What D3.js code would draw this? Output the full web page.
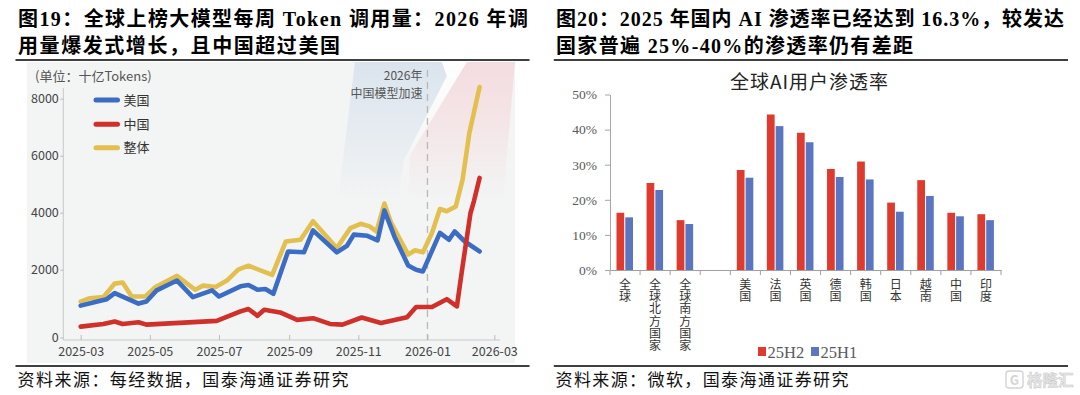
<!DOCTYPE html>
<html><head><meta charset="utf-8">
<script src="https://cdn.jsdelivr.net/npm/d3@7"></script>
<style>
html,body{margin:0;padding:0;background:#fff;}
svg{display:block;}
</style></head><body>
<svg id="c" width="1080" height="395"></svg>
<script>
// ===== Left chart data: weekly token calls (十亿Tokens) =====
const xTickLabels = ["2025-03","2025-05","2025-07","2025-09","2025-11","2026-01","2026-03"];
const yTickValues = [0,2000,4000,6000,8000];
const seriesNames = ["美国","中国","整体"];

const usDates = ["2025-03-01","2025-03-12","2025-03-24","2025-03-31","2025-04-21","2025-04-28","2025-05-07","2025-05-25","2025-06-08","2025-06-25","2025-07-01","2025-07-20","2025-07-27","2025-08-04","2025-08-11","2025-08-18","2025-08-31","2025-09-14","2025-09-22","2025-10-13","2025-10-22","2025-10-28","2025-11-09","2025-11-18","2025-11-24","2025-12-03","2025-12-15","2025-12-22","2025-12-28","2026-01-12","2026-01-20","2026-01-25","2026-02-03","2026-02-16"];
const usValues = [940,1030,1130,1310,1000,1060,1390,1680,1190,1390,1210,1510,1550,1410,1430,1290,2640,2610,3380,2610,2840,3230,3190,3030,4080,3150,2150,2000,1950,3290,3050,3340,2990,2640];

const cnDates = ["2025-03-01","2025-03-21","2025-03-31","2025-04-07","2025-04-21","2025-04-28","2025-06-29","2025-07-20","2025-07-27","2025-08-04","2025-08-10","2025-08-24","2025-09-08","2025-09-22","2025-10-07","2025-10-18","2025-11-04","2025-11-21","2025-12-14","2025-12-22","2026-01-05","2026-01-18","2026-01-27","2026-02-01","2026-02-08","2026-02-11","2026-02-16"];
const cnValues = [320,400,470,400,450,380,490,770,840,640,820,740,520,570,400,380,590,430,600,900,900,1130,920,2120,3990,4400,5220];

const totalDates = ["2025-03-01","2025-03-09","2025-03-21","2025-03-31","2025-04-07","2025-04-15","2025-04-27","2025-05-06","2025-05-25","2025-06-10","2025-06-17","2025-06-28","2025-07-08","2025-07-18","2025-07-27","2025-08-17","2025-08-29","2025-09-11","2025-09-22","2025-10-13","2025-10-25","2025-11-03","2025-11-11","2025-11-17","2025-11-24","2025-11-30","2025-12-08","2025-12-15","2025-12-21","2025-12-28","2026-01-05","2026-01-12","2026-01-18","2026-01-26","2026-02-01","2026-02-07","2026-02-16"];
const totalValues = [1060,1160,1190,1590,1620,1210,1210,1490,1820,1410,1530,1490,1680,2000,2140,1850,2990,3050,3700,2760,3460,3610,3520,3340,4320,3640,3050,2530,2680,2610,3290,4130,4050,4220,5160,6800,8410];

// ===== Right chart data: AI user penetration =====
const barCategories = ["全球","全球北方国家","全球南方国家","","美国","法国","英国","德国","韩国","日本","越南","中国","印度"];
const barSeries = ["25H2","25H1"];
const h2Values = [16.3,24.8,14.2,null,28.5,44.3,39.1,28.8,30.9,19.2,25.6,16.3,15.9];
const h1Values = [15.0,22.8,13.1,null,26.3,41.0,36.4,26.5,25.8,16.6,21.1,15.3,14.2];
const barTickValues = [0,10,20,30,40,50];

// ===== Styling =====
const CJK = "'Noto Sans CJK SC','Noto Sans',sans-serif";
const TITLE = "'Liberation Serif','Noto Sans CJK SC',serif";
const colUS = "#3b6dc4", colCN = "#d0302a", colTot = "#e3bf4f";
const colH2 = "#df3a2e", colH1 = "#5b76c1";

const svg = d3.select("#c");
const defs = svg.append("defs");

// ---------- Titles, rules, footers ----------
function title(x, y, txt, len){
  svg.append("text").attr("x",x).attr("y",y).attr("font-family",TITLE)
    .attr("font-weight","bold").attr("font-size",20).attr("fill","#000")
    .attr("textLength",len).attr("lengthAdjust","spacing").text(txt);
}
title(18, 26, "图19：全球上榜大模型每周 Token 调用量：2026 年调", 510);
title(18, 53, "用量爆发式增长，且中国超过美国", 322);
title(556, 26, "图20：2025 年国内 AI 渗透率已经达到 16.3%，较发达", 508);
title(556, 53, "国家普遍 25%-40%的渗透率仍有差距", 357);

[[15.5,529.5],[553.8,1068]].forEach(([a,b])=>{
  svg.append("line").attr("x1",a).attr("x2",b).attr("y1",60).attr("y2",60).attr("stroke","#000").attr("stroke-width",1.6);
  svg.append("line").attr("x1",a).attr("x2",b).attr("y1",366).attr("y2",366).attr("stroke","#000").attr("stroke-width",1.6);
});
function footer(x, txt, len){
  svg.append("text").attr("x",x).attr("y",386).attr("font-family",CJK).attr("font-size",17)
    .attr("fill","#111").attr("textLength",len).attr("lengthAdjust","spacing").text(txt);
}
footer(17.5, "资料来源：每经数据，国泰海通证券研究", 331);
footer(555.5, "资料来源：微软，国泰海通证券研究", 293);

// watermark
const wm = svg.append("g").attr("opacity",0.9);
wm.append("rect").attr("x",1006).attr("y",371).attr("width",17).attr("height",17).attr("rx",3)
  .attr("fill","none").attr("stroke","#cfcfcf").attr("stroke-width",1.4);
wm.append("text").attr("x",1014.5).attr("y",384.5).attr("text-anchor","middle").attr("font-family",CJK)
  .attr("font-size",13).attr("font-weight","bold").attr("fill","#d2d2d2").text("G");
wm.append("text").attr("x",1027).attr("y",386).attr("font-family",CJK).attr("font-size",15.5)
  .attr("font-weight","bold").attr("fill","#e6e6e6").attr("stroke","#c9c9c9").attr("stroke-width",0.6).text("格隆汇");

// ---------- Left chart ----------
const parse = d3.timeParse("%Y-%m-%d");
const parseM = d3.timeParse("%Y-%m");
const x = d3.scaleTime().domain([parseM("2025-03"), parseM("2026-03")]).range([80.7, 494.3]);
const y = d3.scaleLinear().domain([0,2000,8000]).range([337.5,269.7,98.7]);

svg.append("rect").attr("x",27).attr("y",62).attr("width",488).attr("height",301).attr("fill","#f3f4f4");

function vgrad(id, color, y1, y2, op){
  const g = defs.append("linearGradient").attr("id",id).attr("gradientUnits","userSpaceOnUse")
    .attr("x1",0).attr("x2",0).attr("y1",y1).attr("y2",y2);
  g.append("stop").attr("offset",0).attr("stop-color",color).attr("stop-opacity",op);
  g.append("stop").attr("offset",0.5).attr("stop-color",color).attr("stop-opacity",op*0.55);
  g.append("stop").attr("offset",1).attr("stop-color",color).attr("stop-opacity",0);
}
vgrad("gBlue","#d3dfec",62,200,0.75);
vgrad("gPink","#f5d6da",62,200,0.8);
vgrad("gWhite","#ffffff",62,170,0.9);
svg.append("polygon").attr("points","355,62 442,62 447,76 404,160 398,200 338,200").attr("fill","url(#gBlue)");
svg.append("polygon").attr("points","442,62 467,62 410,155 404,160 447,76").attr("fill","url(#gWhite)");
svg.append("polygon").attr("points","467,62 515,62 503,200 408,200 410,155").attr("fill","url(#gPink)");

// axes
svg.append("line").attr("x1",63.3).attr("x2",63.3).attr("y1",88).attr("y2",340).attr("stroke","#c8c8c8").attr("stroke-width",1);
svg.append("line").attr("x1",63.3).attr("x2",500).attr("y1",340).attr("y2",340).attr("stroke","#c8c8c8").attr("stroke-width",1);

const yAx = svg.append("g").attr("transform","translate(63.3,0)")
  .call(d3.axisLeft(y).tickValues(yTickValues).tickFormat(d3.format("d")).tickSize(3).tickPadding(1.5));
yAx.select(".domain").remove();
yAx.selectAll("line").attr("stroke","#bbb");
yAx.selectAll("text").attr("font-family",CJK).attr("font-size",12.5).attr("fill","#444");

const xAx = svg.append("g").attr("transform","translate(0,340)")
  .call(d3.axisBottom(x).tickValues(xTickLabels.map(parseM)).tickFormat(d3.timeFormat("%Y-%m")).tickSizeInner(-5).tickSizeOuter(0).tickPadding(7.5));
xAx.select(".domain").remove();
xAx.selectAll("line").attr("stroke","#bbb");
xAx.selectAll("text").attr("font-family",CJK).attr("font-size",12.5).attr("fill","#444");

// dashed 2026 marker
const x26 = x(parseM("2026-01"));
svg.append("line").attr("x1",x26).attr("x2",x26).attr("y1",70).attr("y2",340)
  .attr("stroke","#b8b8b8").attr("stroke-width",1.3).attr("stroke-dasharray","7,5");
const ann = svg.append("text").attr("text-anchor","end").attr("font-family",CJK)
  .attr("font-size",12).attr("fill","#555");
ann.append("tspan").attr("x",x26-5).attr("y",80).text("2026年");
ann.append("tspan").attr("x",x26-5).attr("y",97.6).text("中国模型加速");

svg.append("text").attr("x",35).attr("y",80.5).attr("font-family",CJK).attr("font-size",13)
  .attr("fill","#555").text("(单位：十亿Tokens)");

// lines
const line = d3.line().x(d=>x(d.date)).y(d=>y(d.v));
const mk = (ds, vs) => d3.zip(ds, vs).map(([d,v]) => ({date: parse(d), v}));
const series = [
  {name: seriesNames[2], color: colTot, data: mk(totalDates,totalValues)},
  {name: seriesNames[0], color: colUS, data: mk(usDates,usValues)},
  {name: seriesNames[1], color: colCN, data: mk(cnDates,cnValues)}
];
svg.append("g").selectAll("path").data(series).join("path")
  .attr("d", d=>line(d.data)).attr("fill","none").attr("stroke", d=>d.color)
  .attr("stroke-width",4.6).attr("stroke-linejoin","round").attr("stroke-linecap","round");

// legend
const legY = [100,124.3,147.7];
const legCol = [colUS, colCN, colTot];
seriesNames.forEach((n,i)=>{
  svg.append("line").attr("x1",96).attr("x2",117.5).attr("y1",legY[i]).attr("y2",legY[i])
    .attr("stroke",legCol[i]).attr("stroke-width",5).attr("stroke-linecap","round");
  svg.append("text").attr("x",123.5).attr("y",legY[i]).attr("dy","0.36em").attr("font-family",CJK)
    .attr("font-size",13).attr("fill","#333").text(n);
});

// ---------- Right chart ----------
const xb = d3.scaleBand().domain(barCategories).range([610, 1001]);
const xs = d3.scaleBand().domain(barSeries).range([6.5, 23]).paddingInner(0.12);
const yb = d3.scaleLinear().domain([0, 50]).range([270, 94.5]);
const bw = xb.bandwidth();

svg.append("text").attr("x",809).attr("y",82).attr("dy","0.36em").attr("text-anchor","middle")
  .attr("font-family",CJK).attr("font-size",19).attr("fill","#222")
  .attr("textLength",158).attr("lengthAdjust","spacing").text("全球AI用户渗透率");

const ybAx = svg.append("g").attr("transform","translate(610,0)")
  .call(d3.axisLeft(yb).tickValues(barTickValues).tickFormat(d=>d+"%").tickSize(5).tickPadding(8).tickSizeOuter(0));
ybAx.select(".domain").attr("stroke","#a6a6a6");
ybAx.selectAll("line").attr("stroke","#a6a6a6");
ybAx.selectAll("text").attr("font-family","'Liberation Serif',serif").attr("font-size",13.5).attr("fill","#595959");

const barData = [];
barCategories.forEach((c,i)=>{
  if (h2Values[i] != null) barData.push({c, s: barSeries[0], v: h2Values[i]});
  if (h1Values[i] != null) barData.push({c, s: barSeries[1], v: h1Values[i]});
});
svg.append("g").selectAll("rect").data(barData).join("rect")
  .attr("x", d=>xb(d.c)+xs(d.s)).attr("width", xs.bandwidth())
  .attr("y", d=>yb(d.v)).attr("height", d=>yb(0)-yb(d.v))
  .attr("fill", d=> d.s===barSeries[0] ? colH2 : colH1);

const xbAx = svg.append("g").attr("transform","translate(0,270)")
  .call(d3.axisBottom(xb).tickSize(0).tickSizeOuter(0).tickFormat(""));
xbAx.select(".domain").attr("stroke","#a0a0a0").attr("stroke-width",1.2);
const bounds = barCategories.map(c=>xb(c)).concat([xb(barCategories[barCategories.length-1])+bw]);
svg.append("g").selectAll("line").data(bounds).join("line")
  .attr("x1",d=>d).attr("x2",d=>d).attr("y1",270).attr("y2",275).attr("stroke","#a0a0a0");

// vertical category labels (one text each, vertical writing mode)
svg.append("g").selectAll("text").data(barCategories.filter(c=>c)).join("text")
  .attr("x", c=>xb(c)+bw/2).attr("y", 278.3)
  .style("writing-mode","vertical-rl").style("text-orientation","upright")
  .attr("letter-spacing",0.3)
  .attr("font-family",CJK).attr("font-size",12).attr("fill","#333")
  .text(c=>c);

// legend
const lg = [[758,colH2,barSeries[0]],[811,colH1,barSeries[1]]];
lg.forEach(([lx,col,name])=>{
  svg.append("rect").attr("x",lx).attr("y",347).attr("width",8).attr("height",9).attr("fill",col);
  svg.append("text").attr("x",lx+9.5).attr("y",358).attr("font-family","'Liberation Serif',serif")
    .attr("font-size",16.5).attr("fill","#595959").text(name);
});
</script>
</body></html>
